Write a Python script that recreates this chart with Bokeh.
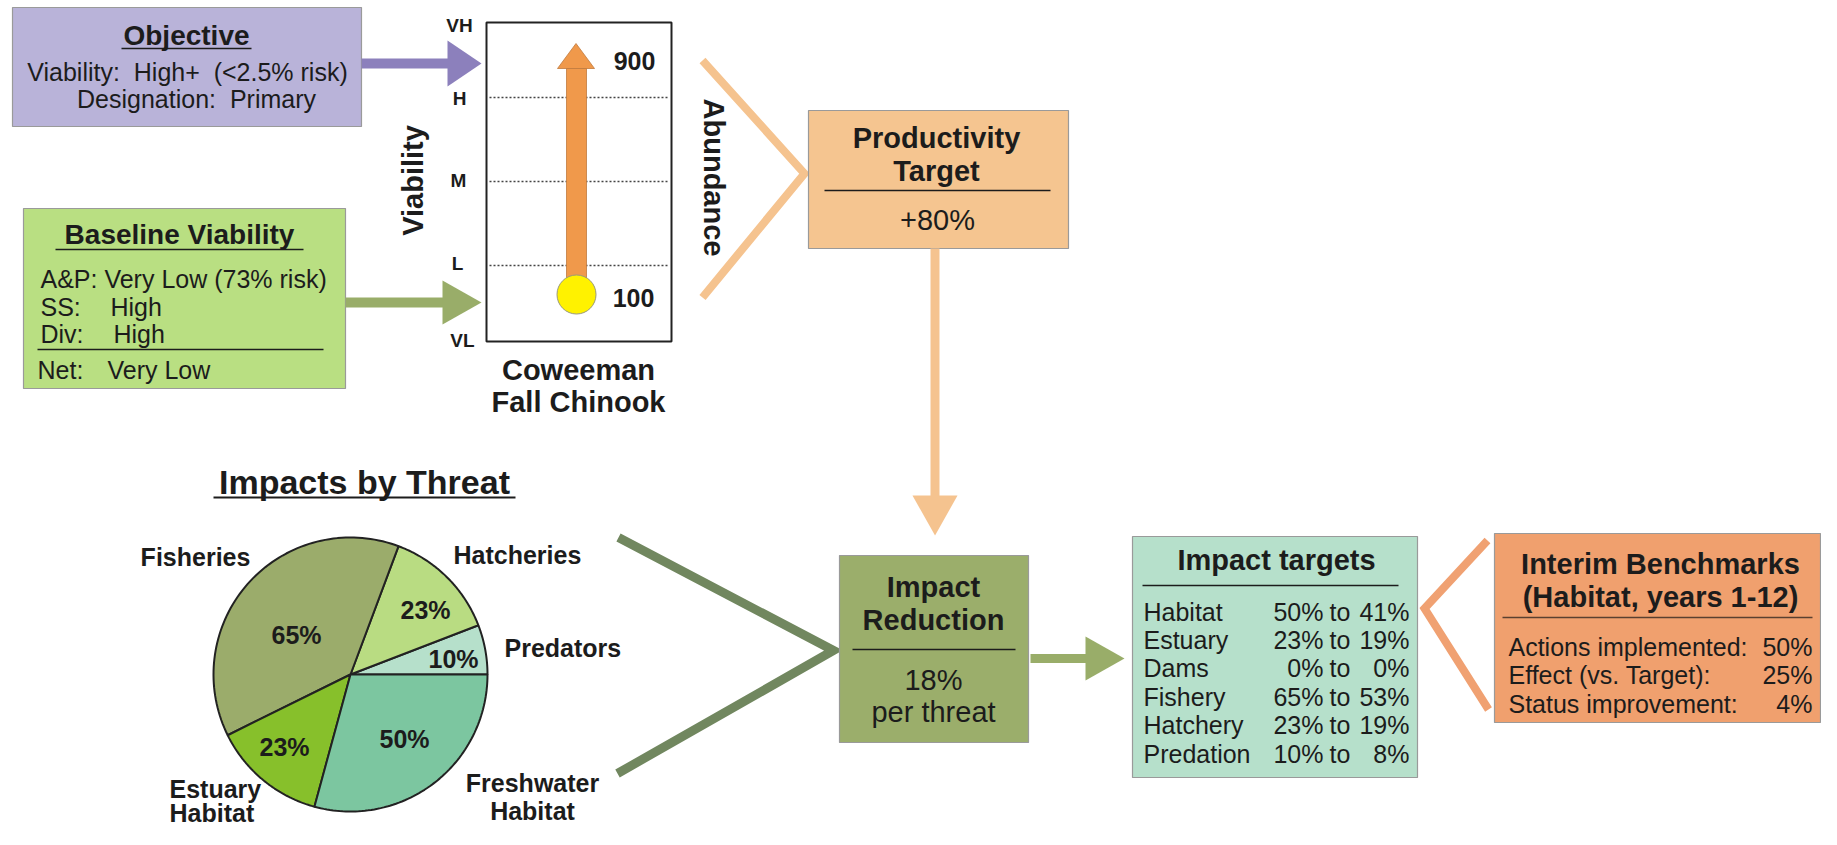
import numpy as np
from bokeh.plotting import figure
from bokeh.models import Range1d
from bokeh.embed import file_html
from bokeh.resources import INLINE
from bokeh.core.properties import value

# ---------------- data ----------------
NB = "\u00a0"
objective_title = "Objective"
objective_lines = ["Viability:" + NB + " High+" + NB + " (<2.5% risk)", "Designation:" + NB + " Primary"]
baseline_title = "Baseline Viability"
baseline_first = "A&P: Very Low (73% risk)"
baseline_keys = ["SS:", "Div:"]
baseline_vals = ["High", "High"]
baseline_net = ["Net:", "Very Low"]
viability_levels = ["VH", "H", "M", "L", "VL"]
abundance_values = [100, 900]
population = ["Coweeman", "Fall Chinook"]
productivity_title = ["Productivity", "Target"]
productivity_value = "+80%"
reduction_title = ["Impact", "Reduction"]
reduction_value = ["18%", "per threat"]
pie_labels = ["Predators", "Hatcheries", "Fisheries", "Estuary Habitat", "Freshwater Habitat"]
pie_values = [10, 23, 65, 23, 50]
pie_colors = ["#b6e0cb", "#b9dc82", "#9bac6b", "#87c02b", "#7cc6a0"]
target_names = ["Habitat", "Estuary", "Dams", "Fishery", "Hatchery", "Predation"]
target_from = [50, 23, 0, 65, 23, 10]
target_to = [41, 19, 0, 53, 19, 8]
benchmark_title = ["Interim Benchmarks", "(Habitat, years 1-12)"]
benchmark_labels = ["Actions implemented:", "Effect (vs. Target):", "Status improvement:"]
benchmark_values = [50, 25, 4]

FONT = "Liberation Sans"
INK = "#1c1c1c"

W, H = 1821, 829
p = figure(width=W, height=H, output_backend="svg", toolbar_location=None,
           x_axis_type=None, y_axis_type=None,
           x_range=Range1d(0, W), y_range=Range1d(H, 0),
           min_border=0, outline_line_color=None)
p.min_border_left = p.min_border_right = p.min_border_top = p.min_border_bottom = 0
p.xgrid.visible = False
p.ygrid.visible = False


def txt(x, y, s, size, bold=False, align="center", angle=0.0, color=INK):
    p.text(x=[x], y=[y], text=[s], text_font=value(FONT), text_font_size=f"{size}px",
           text_font_style="bold" if bold else "normal", text_align=align,
           text_baseline="middle", angle=angle, text_color=color)


def box(l, r, t, b, fill, line="#9a9a9a", lw=1.2):
    p.quad(left=[l], right=[r], top=[t], bottom=[b], fill_color=fill,
           line_color=line, line_width=lw)


def hline(x0, x1, y, color=INK, lw=1.3, dash="solid"):
    p.segment(x0=[x0], y0=[y], x1=[x1], y1=[y], line_color=color, line_width=lw,
              line_dash=dash)


def arrow_right(x0, xb, xt, yc, shaft, head, color):
    p.quad(left=[x0], right=[xb + 1], top=[yc - shaft / 2], bottom=[yc + shaft / 2],
           fill_color=color, line_color=None)
    p.patch(x=[xb, xt, xb], y=[yc - head, yc, yc + head], fill_color=color, line_color=None)


def chevron(pts, color, lw):
    p.line(x=[q[0] for q in pts], y=[q[1] for q in pts], line_color=color,
           line_width=lw, line_join="miter", line_cap="butt")


# ---------------- Objective box ----------------
box(12, 361, 7, 126, "#b9b3d9")
txt(186, 35, objective_title, 28, bold=True)
hline(121, 251, 48, lw=1.6)
txt(187, 71, objective_lines[0], 25)
txt(196, 98, objective_lines[1], 25)
arrow_right(361, 447, 481, 63, 10, 23, "#8c80bc")

# ---------------- Baseline box ----------------
box(23, 345, 208, 388, "#b9df82")
txt(179, 234, baseline_title, 28, bold=True)
hline(55, 303, 249, lw=1.6)
txt(40, 278, baseline_first, 25, align="left")
bx_val = [110, 113]
for i, (k, v) in enumerate(zip(baseline_keys, baseline_vals)):
    yy = 306 + i * 27.5
    txt(40, yy, k, 25, align="left")
    txt(bx_val[i], yy, v, 25, align="left")
hline(37, 323, 349, lw=1.6)
txt(37, 369, baseline_net[0], 25, align="left")
txt(107, 369, baseline_net[1], 25, align="left")
arrow_right(345, 442, 481, 302, 10, 22, "#99ad69")

# ---------------- Viability scale ----------------
top, bot = 22, 341
level_y = [25, 98, 180, 263, 340]
level_x = [459, 459, 458, 457, 462]
for lv, lx, ly in zip(viability_levels, level_x, level_y):
    txt(lx, ly, lv, 19, bold=True)
for dy in [97, 181, 265]:
    hline(489, 668, dy, color="#444", lw=1.6, dash="2 2")
p.quad(left=[486], right=[671], top=[top], bottom=[bot], fill_color=None,
       line_color="#222", line_width=2)
txt(412, 180, "Viability", 29, bold=True, angle=np.pi / 2)

# abundance arrow: map abundance to vertical position
y_of = lambda a: 294 - (a - abundance_values[0]) * (294 - 43) / (abundance_values[1] - abundance_values[0])
y_lo, y_hi = y_of(abundance_values[0]), y_of(abundance_values[1])
p.quad(left=[566], right=[586], top=[y_hi + 25], bottom=[y_lo - 8], fill_color="#f0994b",
       line_color="#c07a3e", line_width=0.8)
p.patch(x=[557, 575.5, 594], y=[y_hi + 25, y_hi, y_hi + 25], fill_color="#f0994b",
        line_color="#c07a3e", line_width=0.8)
p.scatter(x=[576], y=[y_lo], size=39, fill_color="#fff200", line_color="#9a9a7a", line_width=1)
txt(634, y_hi + 17, str(abundance_values[1]), 25, bold=True)
txt(633, y_lo + 3, str(abundance_values[0]), 25, bold=True)
txt(578, 369, population[0], 29, bold=True)
txt(578, 401, population[1], 29, bold=True)
txt(713, 177, "Abundance", 29, bold=True, angle=-np.pi / 2)
chevron([(702, 60), (804, 173), (702, 297)], "#f5c38f", 8)

# ---------------- Productivity target ----------------
box(808, 1068, 110, 248, "#f5c590")
txt(936, 137, productivity_title[0], 29, bold=True)
txt(936, 170, productivity_title[1], 29, bold=True)
hline(824, 1050, 190, lw=1.3)
txt(937, 219, productivity_value, 29)
p.quad(left=[930], right=[939], top=[248], bottom=[496], fill_color="#f5c38f", line_color=None)
p.patch(x=[912, 957, 934.5], y=[495, 495, 535], fill_color="#f5c38f", line_color=None)

# ---------------- Pie chart ----------------
cx, cy, r = 350, 674, 137
txt(364, 481, "Impacts by Threat", 34, bold=True)
hline(213, 515, 497, lw=1.8)
vals = np.array(pie_values, dtype=float)
edges = np.concatenate([[0], np.cumsum(vals)]) / vals.sum() * 2 * np.pi
xs, ys = [], []
for a0, a1 in zip(edges[:-1], edges[1:]):
    t = np.linspace(a0, a1, 80)
    xs.append(np.concatenate([[cx], cx + r * np.cos(t)]).tolist())
    ys.append(np.concatenate([[cy], cy - r * np.sin(t)]).tolist())
p.patches(xs=xs, ys=ys, fill_color=pie_colors, line_color="#222", line_width=2)
pct_pos = [(453, 658), (425, 609), (296, 634), (284, 746), (404, 738)]
for v, (px, py) in zip(pie_values, pct_pos):
    txt(px, py, f"{v}%", 25, bold=True)
lab_pos = [(504, 647, "left", 29), (453, 554, "left", 29), (195, 556, "center", 29),
           (169, 788, "left", 24), (532, 782, "center", 28)]
for lab, (lx, ly, al, gap) in zip(pie_labels, lab_pos):
    parts = lab.split(" ")
    for j, part in enumerate(parts):
        txt(lx, ly + gap * j, part, 25, bold=True, align=al)
chevron([(618, 537), (833, 650), (617, 773)], "#71875f", 9)

# ---------------- Impact reduction ----------------
box(839, 1028, 555, 742, "#9bae6b")
txt(933, 586, reduction_title[0], 29, bold=True)
txt(933, 619, reduction_title[1], 29, bold=True)
hline(852, 1015, 649, lw=1.3)
txt(933, 679, reduction_value[0], 29)
txt(933, 711, reduction_value[1], 29)
arrow_right(1030, 1085, 1124, 658, 9, 22, "#99ad69")

# ---------------- Impact targets ----------------
box(1132, 1417, 536, 777, "#b6e0cb")
txt(1276, 559, "Impact targets", 29, bold=True)
hline(1142, 1398, 585, lw=1.3)
for i, (nm, f, t) in enumerate(zip(target_names, target_from, target_to)):
    yy = 611 + i * 28.4
    txt(1143, yy, nm, 25, align="left")
    txt(1323, yy, f"{f}%", 25, align="right")
    txt(1329, yy, "to", 25, align="left")
    txt(1409, yy, f"{t}%", 25, align="right")
chevron([(1487, 540), (1424, 608), (1488, 709)], "#f0a172", 8)

# ---------------- Interim benchmarks ----------------
box(1494, 1820, 533, 722, "#f0a06e")
txt(1660, 563, benchmark_title[0], 29, bold=True)
txt(1660, 596, benchmark_title[1], 29, bold=True)
hline(1502, 1812, 617, color="#5a4030", lw=1.5)
for i, (lab, v) in enumerate(zip(benchmark_labels, benchmark_values)):
    yy = 646 + i * 28.5
    txt(1508, yy, lab, 25, align="left")
    txt(1812, yy, f"{v}%", 25, align="right")

open("out.html", "w").write(file_html(p, INLINE))
